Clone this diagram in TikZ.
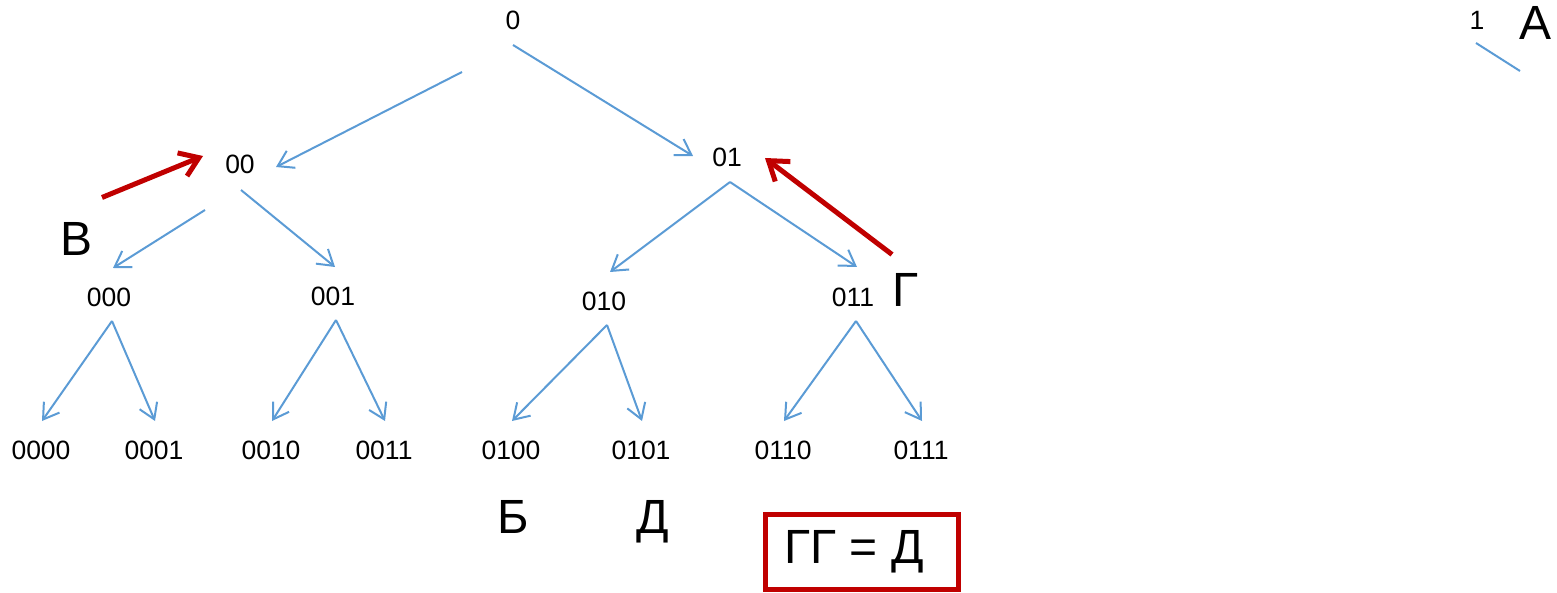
\documentclass[tikz,border=0pt]{standalone}
\usepackage{fontspec}
\setmainfont{Liberation Sans}
\usepackage{xcolor}
\usepackage{tikz}
\usetikzlibrary{arrows.meta}
\definecolor{edgeblue}{RGB}{91,155,213}
\definecolor{markred}{RGB}{192,0,0}

\begin{document}
\begin{tikzpicture}[x=1pt, y=-1pt,
    code/.style={font=\fontsize{26.5}{31}\selectfont, inner sep=0pt},
    letter/.style={font=\fontsize{48}{57}\selectfont, inner sep=0pt, anchor=base},
    edge/.style={draw=edgeblue, line width=2pt, -{Straight Barb[length=15pt,width=19pt]}},
    pointer/.style={draw=markred, line width=5pt, -{Straight Barb[length=18pt,width=25pt]}}]
    \useasboundingbox (0,0) rectangle (1557,593);
    % tree of codes
    \node[code] (n0) at (513,20) {0};
    \node[code] (n1) at (1477,20) {1};
    \node[code] (n00) at (240,164) {00};
    \node[code] (n01) at (727,157) {01};
    \node[code] (n000) at (109,297) {000};
    \node[code] (n001) at (333,296) {001};
    \node[code] (n010) at (604,301) {010};
    \node[code] (n011) at (853,297) {011};
    \node[code] (n0000) at (41,450) {0000};
    \node[code] (n0001) at (154,450) {0001};
    \node[code] (n0010) at (271,450) {0010};
    \node[code] (n0011) at (384,450) {0011};
    \node[code] (n0100) at (511,450) {0100};
    \node[code] (n0101) at (641,450) {0101};
    \node[code] (n0110) at (783,450) {0110};
    \node[code] (n0111) at (921,450) {0111};
    % letters
    \node[letter] (A) at (1535,40) {А};
    \node[letter] (B) at (513,533) {Б};
    \node[letter] (V) at (77,256) {В};
    \node[letter] (G) at (905,307) {Г};
    \node[letter] (D) at (653,533) {Д};
    \node[draw=markred, line width=4.5pt, minimum width=193pt, minimum height=75pt,
          font=\fontsize{48}{57}\selectfont] (rule) at (862,552) {ГГ = Д\hspace*{16pt}};
    % edges
    \draw[edge] ([shift={(-51,52)}]n0.center) -- ([shift={(36,3)}]n00.center);
    \draw[edge] ([shift={(0,25)}]n0.center) -- ([shift={(-34,-1)}]n01.center);
    \draw[edge] ([shift={(-35,46)}]n00.center) -- ([shift={(4,-29)}]n000.center);
    \draw[edge] ([shift={(1,26)}]n00.center) -- ([shift={(2,-29)}]n001.center);
    \draw[edge] ([shift={(3,25)}]n01.center) -- ([shift={(6,-29)}]n010.center);
    \draw[edge] ([shift={(3,25)}]n01.center) -- ([shift={(4,-30)}]n011.center);
    \foreach \p/\c in {000/0000, 000/0001, 001/0010, 001/0011,
                       010/0100, 010/0101, 011/0110, 011/0111}
        \draw[edge] ([shift={(3,24)}]n\p.center) -- ([shift={(1,-29)}]n\c.center);
    \coordinate (cut) at (1520,71);
    \draw[draw=edgeblue, line width=2pt] ([shift={(-1,23)}]n1.center) -- (cut);
    % pointers
    \draw[pointer] ([shift={(25,-42)}]V.center) -- ([shift={(-37,-8)}]n00.center);
    \draw[pointer] ([shift={(-13,-36)}]G.center) -- ([shift={(38,1)}]n01.center);
\end{tikzpicture}
\end{document}
